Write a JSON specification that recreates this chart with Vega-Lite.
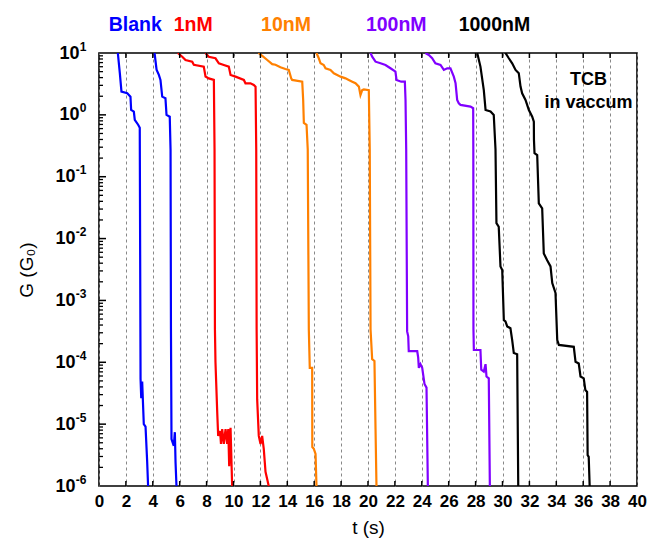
{
  "$schema": "https://vega.github.io/schema/vega-lite/v6.json",
  "width": 538,
  "height": 433,
  "autosize": "none",
  "padding": {"left": 99, "top": 53, "right": 14, "bottom": 64},
  "background": "white",
  "config": {
    "view": {"stroke": "black", "strokeWidth": 1.6},
    "font": "Liberation Sans"
  },
  "datasets": {
    "xticks": [{"v":2},{"v":4},{"v":6},{"v":8},{"v":10},{"v":12},{"v":14},{"v":16},{"v":18},{"v":20},{"v":22},{"v":24},{"v":26},{"v":28},{"v":30},{"v":32},{"v":34},{"v":36},{"v":38}],
    "ymajor": [{"v":1e-5},{"v":1e-4},{"v":1e-3},{"v":1e-2},{"v":0.1},{"v":1}],
    "yminor": [{"v":2e-6},{"v":3e-6},{"v":4e-6},{"v":5e-6},{"v":6e-6},{"v":7e-6},{"v":8e-6},{"v":9e-6},
               {"v":2e-5},{"v":3e-5},{"v":4e-5},{"v":5e-5},{"v":6e-5},{"v":7e-5},{"v":8e-5},{"v":9e-5},
               {"v":2e-4},{"v":3e-4},{"v":4e-4},{"v":5e-4},{"v":6e-4},{"v":7e-4},{"v":8e-4},{"v":9e-4},
               {"v":2e-3},{"v":3e-3},{"v":4e-3},{"v":5e-3},{"v":6e-3},{"v":7e-3},{"v":8e-3},{"v":9e-3},
               {"v":2e-2},{"v":3e-2},{"v":4e-2},{"v":5e-2},{"v":6e-2},{"v":7e-2},{"v":8e-2},{"v":9e-2},
               {"v":0.2},{"v":0.3},{"v":0.4},{"v":0.5},{"v":0.6},{"v":0.7},{"v":0.8},{"v":0.9},
               {"v":2},{"v":3},{"v":4},{"v":5},{"v":6},{"v":7},{"v":8},{"v":9}]
  },
  "resolve": {"axis": {"x": "independent", "y": "independent"}},
  "layer": [
    {
      "data": {"values": [
        {"g":"Blank","r":1,"i":0,"t":1.40,"G":10},
        {"g":"Blank","r":1,"i":1,"t":1.55,"G":4.68},
        {"g":"Blank","r":1,"i":2,"t":1.67,"G":2.38},
        {"g":"Blank","r":1,"i":3,"t":2.10,"G":2.24},
        {"g":"Blank","r":1,"i":4,"t":2.34,"G":1.97},
        {"g":"Blank","r":1,"i":5,"t":2.39,"G":1.20},
        {"g":"Blank","r":1,"i":6,"t":2.59,"G":1.13},
        {"g":"Blank","r":1,"i":7,"t":2.66,"G":0.832},
        {"g":"Blank","r":1,"i":8,"t":2.91,"G":0.692},
        {"g":"Blank","r":1,"i":9,"t":3.03,"G":0.617},
        {"g":"Blank","r":1,"i":10,"t":3.09,"G":5.37e-5},
        {"g":"Blank","r":1,"i":11,"t":3.14,"G":2.63e-5},
        {"g":"Blank","r":1,"i":12,"t":3.21,"G":4.9e-5},
        {"g":"Blank","r":1,"i":13,"t":3.26,"G":2.51e-5},
        {"g":"Blank","r":1,"i":14,"t":3.33,"G":1e-5},
        {"g":"Blank","r":1,"i":15,"t":3.46,"G":9.1e-6},
        {"g":"Blank","r":1,"i":16,"t":3.58,"G":2.51e-6},
        {"g":"Blank","r":1,"i":17,"t":3.65,"G":1e-6},

        {"g":"Blank","r":2,"i":0,"t":4.13,"G":10},
        {"g":"Blank","r":2,"i":1,"t":4.28,"G":5.37},
        {"g":"Blank","r":2,"i":2,"t":4.45,"G":4.42},
        {"g":"Blank","r":2,"i":3,"t":4.57,"G":3.67},
        {"g":"Blank","r":2,"i":4,"t":4.70,"G":1.97},
        {"g":"Blank","r":2,"i":5,"t":4.94,"G":1.86},
        {"g":"Blank","r":2,"i":6,"t":5.02,"G":1.0},
        {"g":"Blank","r":2,"i":7,"t":5.26,"G":0.933},
        {"g":"Blank","r":2,"i":8,"t":5.32,"G":0.275},
        {"g":"Blank","r":2,"i":9,"t":5.35,"G":3.39e-4},
        {"g":"Blank","r":2,"i":10,"t":5.39,"G":5.75e-6},
        {"g":"Blank","r":2,"i":11,"t":5.56,"G":4.47e-6},
        {"g":"Blank","r":2,"i":12,"t":5.64,"G":7.41e-6},
        {"g":"Blank","r":2,"i":13,"t":5.69,"G":2.45e-6},
        {"g":"Blank","r":2,"i":14,"t":5.76,"G":1e-6},

        {"g":"1nM","r":1,"i":0,"t":5.86,"G":10},
        {"g":"1nM","r":1,"i":1,"t":6.19,"G":8.71},
        {"g":"1nM","r":1,"i":2,"t":6.43,"G":7.71},
        {"g":"1nM","r":1,"i":3,"t":6.93,"G":7.24},
        {"g":"1nM","r":1,"i":4,"t":7.05,"G":6.46},
        {"g":"1nM","r":1,"i":5,"t":7.79,"G":6.03},
        {"g":"1nM","r":1,"i":6,"t":7.92,"G":4.17},
        {"g":"1nM","r":1,"i":7,"t":8.16,"G":3.89},
        {"g":"1nM","r":1,"i":8,"t":8.54,"G":3.67},
        {"g":"1nM","r":1,"i":9,"t":8.59,"G":0.275},
        {"g":"1nM","r":1,"i":10,"t":8.62,"G":3.39e-4},
        {"g":"1nM","r":1,"i":11,"t":8.66,"G":1e-4},
        {"g":"1nM","r":1,"i":12,"t":8.79,"G":1.55e-5},
        {"g":"1nM","r":1,"i":13,"t":8.86,"G":6.46e-6},
        {"g":"1nM","r":1,"i":14,"t":9.00,"G":7.76e-6},
        {"g":"1nM","r":1,"i":15,"t":9.07,"G":4.79e-6},
        {"g":"1nM","r":1,"i":16,"t":9.16,"G":8.32e-6},
        {"g":"1nM","r":1,"i":17,"t":9.28,"G":4.79e-6},
        {"g":"1nM","r":1,"i":18,"t":9.41,"G":8.32e-6},
        {"g":"1nM","r":1,"i":19,"t":9.53,"G":4.79e-6},
        {"g":"1nM","r":1,"i":20,"t":9.61,"G":8.32e-6},
        {"g":"1nM","r":1,"i":21,"t":9.68,"G":2.09e-6},
        {"g":"1nM","r":1,"i":22,"t":9.78,"G":8.71e-6},
        {"g":"1nM","r":1,"i":23,"t":9.90,"G":1e-6},

        {"g":"1nM","r":2,"i":0,"t":7.92,"G":10},
        {"g":"1nM","r":2,"i":1,"t":8.16,"G":8.71},
        {"g":"1nM","r":2,"i":2,"t":8.66,"G":8.22},
        {"g":"1nM","r":2,"i":3,"t":8.91,"G":6.82},
        {"g":"1nM","r":2,"i":4,"t":9.28,"G":6.40},
        {"g":"1nM","r":2,"i":5,"t":9.65,"G":6.03},
        {"g":"1nM","r":2,"i":6,"t":9.78,"G":4.42},
        {"g":"1nM","r":2,"i":7,"t":10.15,"G":4.15},
        {"g":"1nM","r":2,"i":8,"t":10.77,"G":3.67},
        {"g":"1nM","r":2,"i":9,"t":10.89,"G":3.24},
        {"g":"1nM","r":2,"i":10,"t":11.26,"G":3.24},
        {"g":"1nM","r":2,"i":11,"t":11.51,"G":3.05},
        {"g":"1nM","r":2,"i":12,"t":11.64,"G":2.86},
        {"g":"1nM","r":2,"i":13,"t":11.69,"G":0.275},
        {"g":"1nM","r":2,"i":14,"t":11.72,"G":3.39e-4},
        {"g":"1nM","r":2,"i":15,"t":11.76,"G":2.51e-5},
        {"g":"1nM","r":2,"i":16,"t":11.88,"G":6.46e-6},
        {"g":"1nM","r":2,"i":17,"t":12.01,"G":4.79e-6},
        {"g":"1nM","r":2,"i":18,"t":12.13,"G":6.46e-6},
        {"g":"1nM","r":2,"i":19,"t":12.25,"G":3.98e-6},
        {"g":"1nM","r":2,"i":20,"t":12.38,"G":1.7e-6},
        {"g":"1nM","r":2,"i":21,"t":12.62,"G":1e-6},

        {"g":"10nM","r":1,"i":0,"t":11.86,"G":10},
        {"g":"10nM","r":1,"i":1,"t":12.16,"G":8.91},
        {"g":"10nM","r":1,"i":2,"t":12.51,"G":7.71},
        {"g":"10nM","r":1,"i":3,"t":12.88,"G":6.61},
        {"g":"10nM","r":1,"i":4,"t":13.12,"G":6.46},
        {"g":"10nM","r":1,"i":5,"t":13.49,"G":5.89},
        {"g":"10nM","r":1,"i":6,"t":13.86,"G":5.50},
        {"g":"10nM","r":1,"i":7,"t":14.11,"G":5.32},
        {"g":"10nM","r":1,"i":8,"t":14.29,"G":3.89},
        {"g":"10nM","r":1,"i":9,"t":14.36,"G":3.67},
        {"g":"10nM","r":1,"i":10,"t":15.11,"G":3.44},
        {"g":"10nM","r":1,"i":11,"t":15.18,"G":1.74},
        {"g":"10nM","r":1,"i":12,"t":15.23,"G":0.741},
        {"g":"10nM","r":1,"i":13,"t":15.43,"G":0.692},
        {"g":"10nM","r":1,"i":14,"t":15.52,"G":0.275},
        {"g":"10nM","r":1,"i":15,"t":15.60,"G":3.39e-4},
        {"g":"10nM","r":1,"i":16,"t":15.67,"G":8.13e-5},
        {"g":"10nM","r":1,"i":17,"t":15.85,"G":8.13e-5},
        {"g":"10nM","r":1,"i":18,"t":15.86,"G":4.27e-6},
        {"g":"10nM","r":1,"i":19,"t":15.97,"G":3.98e-6},
        {"g":"10nM","r":1,"i":20,"t":16.10,"G":3.31e-6},
        {"g":"10nM","r":1,"i":21,"t":16.17,"G":1e-6},

        {"g":"10nM","r":2,"i":0,"t":16.17,"G":10},
        {"g":"10nM","r":2,"i":1,"t":16.34,"G":8.22},
        {"g":"10nM","r":2,"i":2,"t":16.47,"G":6.82},
        {"g":"10nM","r":2,"i":3,"t":16.71,"G":6.40},
        {"g":"10nM","r":2,"i":4,"t":16.84,"G":5.66},
        {"g":"10nM","r":2,"i":5,"t":17.21,"G":5.32},
        {"g":"10nM","r":2,"i":6,"t":17.46,"G":4.71},
        {"g":"10nM","r":2,"i":7,"t":17.71,"G":4.42},
        {"g":"10nM","r":2,"i":8,"t":17.96,"G":4.15},
        {"g":"10nM","r":2,"i":9,"t":18.33,"G":3.89},
        {"g":"10nM","r":2,"i":10,"t":18.57,"G":3.67},
        {"g":"10nM","r":2,"i":11,"t":18.83,"G":3.44},
        {"g":"10nM","r":2,"i":12,"t":19.07,"G":3.24},
        {"g":"10nM","r":2,"i":13,"t":19.32,"G":2.86},
        {"g":"10nM","r":2,"i":14,"t":19.44,"G":2.09},
        {"g":"10nM","r":2,"i":15,"t":19.57,"G":2.51},
        {"g":"10nM","r":2,"i":16,"t":19.69,"G":2.57},
        {"g":"10nM","r":2,"i":17,"t":20.06,"G":2.51},
        {"g":"10nM","r":2,"i":18,"t":20.13,"G":0.275},
        {"g":"10nM","r":2,"i":19,"t":20.19,"G":3.39e-4},
        {"g":"10nM","r":2,"i":20,"t":20.31,"G":1.12e-4},
        {"g":"10nM","r":2,"i":21,"t":20.48,"G":1.05e-4},
        {"g":"10nM","r":2,"i":22,"t":20.56,"G":8.32e-6},
        {"g":"10nM","r":2,"i":23,"t":20.63,"G":1e-6},

        {"g":"100nM","r":1,"i":0,"t":20.19,"G":10},
        {"g":"100nM","r":1,"i":1,"t":20.31,"G":8.71},
        {"g":"100nM","r":1,"i":2,"t":20.56,"G":7.24},
        {"g":"100nM","r":1,"i":3,"t":20.93,"G":6.82},
        {"g":"100nM","r":1,"i":4,"t":21.30,"G":6.40},
        {"g":"100nM","r":1,"i":5,"t":21.67,"G":5.66},
        {"g":"100nM","r":1,"i":6,"t":22.04,"G":5.01},
        {"g":"100nM","r":1,"i":7,"t":22.12,"G":3.67},
        {"g":"100nM","r":1,"i":8,"t":22.47,"G":3.44},
        {"g":"100nM","r":1,"i":9,"t":22.74,"G":3.44},
        {"g":"100nM","r":1,"i":10,"t":22.79,"G":1.74},
        {"g":"100nM","r":1,"i":11,"t":22.84,"G":0.275},
        {"g":"100nM","r":1,"i":12,"t":22.91,"G":3.16e-4},
        {"g":"100nM","r":1,"i":13,"t":22.99,"G":2.63e-4},
        {"g":"100nM","r":1,"i":14,"t":23.03,"G":1.51e-4},
        {"g":"100nM","r":1,"i":15,"t":23.66,"G":1.51e-4},
        {"g":"100nM","r":1,"i":16,"t":23.73,"G":1.2e-4},
        {"g":"100nM","r":1,"i":17,"t":23.78,"G":8.13e-5},
        {"g":"100nM","r":1,"i":18,"t":23.90,"G":9.33e-5},
        {"g":"100nM","r":1,"i":19,"t":24.03,"G":8.13e-5},
        {"g":"100nM","r":1,"i":20,"t":24.20,"G":4.47e-5},
        {"g":"100nM","r":1,"i":21,"t":24.35,"G":3.89e-5},
        {"g":"100nM","r":1,"i":22,"t":24.45,"G":1e-6},

        {"g":"100nM","r":2,"i":0,"t":24.27,"G":10},
        {"g":"100nM","r":2,"i":1,"t":24.52,"G":9.29},
        {"g":"100nM","r":2,"i":2,"t":24.77,"G":8.22},
        {"g":"100nM","r":2,"i":3,"t":25.01,"G":6.82},
        {"g":"100nM","r":2,"i":4,"t":25.39,"G":6.40},
        {"g":"100nM","r":2,"i":5,"t":25.64,"G":5.32},
        {"g":"100nM","r":2,"i":6,"t":25.89,"G":5.66},
        {"g":"100nM","r":2,"i":7,"t":26.13,"G":5.66},
        {"g":"100nM","r":2,"i":8,"t":26.38,"G":4.15},
        {"g":"100nM","r":2,"i":9,"t":26.51,"G":3.24},
        {"g":"100nM","r":2,"i":10,"t":26.63,"G":1.74},
        {"g":"100nM","r":2,"i":11,"t":26.75,"G":1.54},
        {"g":"100nM","r":2,"i":12,"t":26.88,"G":1.45},
        {"g":"100nM","r":2,"i":13,"t":27.62,"G":1.36},
        {"g":"100nM","r":2,"i":14,"t":27.82,"G":1.28},
        {"g":"100nM","r":2,"i":15,"t":27.83,"G":0.275},
        {"g":"100nM","r":2,"i":16,"t":27.84,"G":3.39e-4},
        {"g":"100nM","r":2,"i":17,"t":27.87,"G":1.58e-4},
        {"g":"100nM","r":2,"i":18,"t":28.36,"G":1.58e-4},
        {"g":"100nM","r":2,"i":19,"t":28.42,"G":7.59e-5},
        {"g":"100nM","r":2,"i":20,"t":28.61,"G":7.08e-5},
        {"g":"100nM","r":2,"i":21,"t":28.74,"G":9.33e-5},
        {"g":"100nM","r":2,"i":22,"t":28.81,"G":5.89e-5},
        {"g":"100nM","r":2,"i":23,"t":28.98,"G":5.5e-5},
        {"g":"100nM","r":2,"i":24,"t":29.06,"G":1e-6},

        {"g":"1000nM","r":1,"i":0,"t":28.12,"G":10},
        {"g":"1000nM","r":1,"i":1,"t":28.36,"G":6.03},
        {"g":"1000nM","r":1,"i":2,"t":28.61,"G":2.51},
        {"g":"1000nM","r":1,"i":3,"t":28.74,"G":1.20},
        {"g":"1000nM","r":1,"i":4,"t":29.11,"G":1.13},
        {"g":"1000nM","r":1,"i":5,"t":29.35,"G":1.0},
        {"g":"1000nM","r":1,"i":6,"t":29.48,"G":0.275},
        {"g":"1000nM","r":1,"i":7,"t":29.55,"G":0.0178},
        {"g":"1000nM","r":1,"i":8,"t":29.72,"G":0.0155},
        {"g":"1000nM","r":1,"i":9,"t":29.85,"G":3.55e-3},
        {"g":"1000nM","r":1,"i":10,"t":29.98,"G":3.09e-3},
        {"g":"1000nM","r":1,"i":11,"t":30.10,"G":4.79e-4},
        {"g":"1000nM","r":1,"i":12,"t":30.22,"G":4.57e-4},
        {"g":"1000nM","r":1,"i":13,"t":30.35,"G":3.8e-4},
        {"g":"1000nM","r":1,"i":14,"t":30.59,"G":3.55e-4},
        {"g":"1000nM","r":1,"i":15,"t":30.72,"G":2.29e-4},
        {"g":"1000nM","r":1,"i":16,"t":30.84,"G":1.41e-4},
        {"g":"1000nM","r":1,"i":17,"t":31.09,"G":1.35e-4},
        {"g":"1000nM","r":1,"i":18,"t":31.17,"G":1e-6},

        {"g":"1000nM","r":2,"i":0,"t":30.22,"G":10},
        {"g":"1000nM","r":2,"i":1,"t":30.47,"G":8.22},
        {"g":"1000nM","r":2,"i":2,"t":30.72,"G":6.82},
        {"g":"1000nM","r":2,"i":3,"t":30.97,"G":5.32},
        {"g":"1000nM","r":2,"i":4,"t":31.21,"G":4.71},
        {"g":"1000nM","r":2,"i":5,"t":31.34,"G":2.86},
        {"g":"1000nM","r":2,"i":6,"t":31.46,"G":2.23},
        {"g":"1000nM","r":2,"i":7,"t":31.71,"G":1.74},
        {"g":"1000nM","r":2,"i":8,"t":31.96,"G":1.20},
        {"g":"1000nM","r":2,"i":9,"t":32.21,"G":0.933},
        {"g":"1000nM","r":2,"i":10,"t":32.33,"G":0.776},
        {"g":"1000nM","r":2,"i":11,"t":32.34,"G":0.393},
        {"g":"1000nM","r":2,"i":12,"t":32.38,"G":0.240},
        {"g":"1000nM","r":2,"i":13,"t":32.58,"G":0.224},
        {"g":"1000nM","r":2,"i":14,"t":32.70,"G":0.0372},
        {"g":"1000nM","r":2,"i":15,"t":32.95,"G":0.0309},
        {"g":"1000nM","r":2,"i":16,"t":33.07,"G":5.75e-3},
        {"g":"1000nM","r":2,"i":17,"t":33.32,"G":4.47e-3},
        {"g":"1000nM","r":2,"i":18,"t":33.57,"G":3.55e-3},
        {"g":"1000nM","r":2,"i":19,"t":33.70,"G":1.91e-3},
        {"g":"1000nM","r":2,"i":20,"t":33.94,"G":1.32e-3},
        {"g":"1000nM","r":2,"i":21,"t":34.07,"G":2.29e-4},
        {"g":"1000nM","r":2,"i":22,"t":34.19,"G":1.91e-4},
        {"g":"1000nM","r":2,"i":23,"t":35.30,"G":1.78e-4},
        {"g":"1000nM","r":2,"i":24,"t":35.43,"G":1.02e-4},
        {"g":"1000nM","r":2,"i":25,"t":35.67,"G":9.55e-5},
        {"g":"1000nM","r":2,"i":26,"t":35.80,"G":5.89e-5},
        {"g":"1000nM","r":2,"i":27,"t":36.04,"G":5.5e-5},
        {"g":"1000nM","r":2,"i":28,"t":36.16,"G":3.55e-5},
        {"g":"1000nM","r":2,"i":29,"t":36.29,"G":3.31e-5},
        {"g":"1000nM","r":2,"i":30,"t":36.33,"G":3.16e-6},
        {"g":"1000nM","r":2,"i":31,"t":36.41,"G":2.95e-6},
        {"g":"1000nM","r":2,"i":32,"t":36.48,"G":1e-6}
      ]},
      "mark": {"type": "line", "strokeWidth": 2.2, "clip": true, "strokeJoin": "miter"},
      "encoding": {
        "x": {
          "field": "t", "type": "quantitative",
          "scale": {"domain": [0, 40], "nice": false, "zero": false},
          "axis": {
            "orient": "bottom", "domain": false, "ticks": false,
            "values": [0,2,4,6,8,10,12,14,16,18,20,22,24,26,28,30,32,34,36,38,40],
            "labelOverlap": false, "labelFlush": false, "labelBound": false,
            "grid": true, "gridDash": [3, 3], "gridColor": "#888888", "gridWidth": 1,
            "labelFontSize": 17, "labelFontWeight": "bold", "labelColor": "black",
            "labelPadding": 7, "labelFont": "Liberation Sans",
            "title": "t (s)", "titleFontSize": 19, "titleFontWeight": "normal",
            "titleColor": "black", "titlePadding": 9, "titleFont": "Liberation Sans"
          }
        },
        "y": {
          "field": "G", "type": "quantitative",
          "scale": {"type": "log", "domain": [1e-6, 10], "nice": false},
          "axis": {
            "orient": "left", "domain": false, "ticks": false,
            "values": [1e-6, 1e-5, 1e-4, 1e-3, 1e-2, 0.1, 1, 10],
            "labelExpr": "'10'",
            "labelOverlap": false, "labelFlush": false, "labelBound": false,
            "grid": false,
            "labelFontSize": 18, "labelFontWeight": "bold", "labelColor": "black",
            "labelPadding": {"condition": {"test": "datum.value < 0.5", "value": 24}, "value": 20},
            "labelFont": "Liberation Sans",
            "title": "G (G₀)", "titleFontSize": 19, "titleFontWeight": "normal",
            "titleColor": "black", "titlePadding": 18, "titleFont": "Liberation Sans"
          }
        },
        "color": {
          "field": "g", "type": "nominal",
          "scale": {"domain": ["Blank", "1nM", "10nM", "100nM", "1000nM"],
                    "range": ["#0000FF", "#FF0000", "#FF8000", "#8000FF", "#000000"]},
          "legend": null
        },
        "detail": {"field": "r", "type": "nominal"},
        "order": {"field": "i", "type": "quantitative"}
      }
    },
    {
      "data": {"name": "xticks"},
      "mark": {"type": "tick", "orient": "vertical", "size": 10, "thickness": 1.5, "color": "black", "clip": true, "opacity": 1},
      "encoding": {
        "x": {"field": "v", "type": "quantitative", "axis": null},
        "y": {"datum": 1e-6, "type": "quantitative", "axis": null}
      }
    },
    {
      "data": {"name": "xticks"},
      "mark": {"type": "tick", "orient": "vertical", "size": 10, "thickness": 1.5, "color": "black", "clip": true, "opacity": 1},
      "encoding": {
        "x": {"field": "v", "type": "quantitative", "axis": null},
        "y": {"datum": 10, "type": "quantitative", "axis": null}
      }
    },
    {
      "data": {"name": "ymajor"},
      "mark": {"type": "tick", "orient": "horizontal", "size": 14, "thickness": 1.5, "color": "black", "clip": true, "opacity": 1},
      "encoding": {
        "x": {"datum": 0, "type": "quantitative", "axis": null},
        "y": {"field": "v", "type": "quantitative", "axis": null}
      }
    },
    {
      "data": {"name": "yminor"},
      "mark": {"type": "tick", "orient": "horizontal", "size": 8, "thickness": 1.3, "color": "black", "clip": true, "opacity": 1},
      "encoding": {
        "x": {"datum": 0, "type": "quantitative", "axis": null},
        "y": {"field": "v", "type": "quantitative", "axis": null}
      }
    },
    {
      "data": {"values": [
        {"g": "Blank", "t": 2.7, "G": 28.2},
        {"g": "1nM", "t": 7.0, "G": 28.2},
        {"g": "10nM", "t": 13.9, "G": 28.2},
        {"g": "100nM", "t": 22.1, "G": 28.2},
        {"g": "1000nM", "t": 29.4, "G": 28.2}
      ]},
      "mark": {"type": "text", "fontSize": 19.5, "fontWeight": "bold", "font": "Liberation Sans", "clip": false, "baseline": "middle", "align": "center"},
      "encoding": {
        "x": {"field": "t", "type": "quantitative", "axis": null},
        "y": {"field": "G", "type": "quantitative", "axis": null},
        "text": {"field": "g"},
        "color": {"field": "g", "type": "nominal", "legend": null}
      }
    },
    {
      "data": {"values": [
        {"label": "TCB", "t": 36.4, "G": 3.63},
        {"label": "in vaccum", "t": 36.4, "G": 1.55}
      ]},
      "mark": {"type": "text", "fontSize": 18, "fontWeight": "bold", "font": "Liberation Sans", "color": "black", "baseline": "middle", "align": "center"},
      "encoding": {
        "x": {"field": "t", "type": "quantitative", "axis": null},
        "y": {"field": "G", "type": "quantitative",
              "axis": {"orient": "left", "domain": false, "ticks": false, "title": null, "grid": false,
                       "values": [1e-6, 1e-5, 1e-4, 1e-3, 1e-2, 0.1, 1, 10],
                       "labelExpr": "'' + round(log(datum.value)/LN10)",
                       "labelOverlap": false, "labelFlush": false, "labelBound": false,
                       "labelFontSize": 12, "labelFontWeight": "bold", "labelColor": "black",
                       "labelFont": "Liberation Sans", "labelPadding": 13, "labelOffset": -7}},
        "text": {"field": "label"}
      }
    }
  ]
}
